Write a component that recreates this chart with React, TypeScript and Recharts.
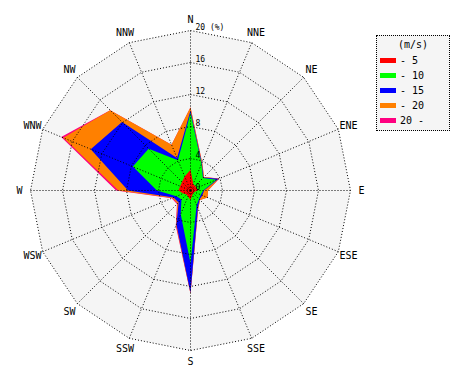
import React from 'react'
import { RadarChart, Radar, PolarGrid, PolarAngleAxis, PolarRadiusAxis } from 'recharts'

const directions = ['N', 'NNE', 'NE', 'ENE', 'E', 'ESE', 'SE', 'SSE', 'S', 'SSW', 'SW', 'WSW', 'W', 'WNW', 'NW', 'NNW']

// cumulative frequency (%) per speed class
const upTo5 = [2.6, 0.9, 0.8, 0.8, 0.9, 0.5, 0.5, 0.6, 1.2, 0.8, 0.7, 1.0, 1.5, 1.4, 1.5, 1.9]
const upTo10 = [9.7, 3.6, 2.2, 3.5, 1.6, 1.4, 1.5, 2.0, 9.1, 3.2, 1.6, 1.9, 4.2, 7.8, 7.4, 4.1]
const upTo15 = [10.0, 3.7, 2.3, 3.8, 1.7, 1.6, 1.6, 2.4, 12.8, 4.6, 2.1, 2.3, 7.8, 13.5, 12.1, 4.4]
const upTo20 = [10.4, 3.8, 2.4, 3.85, 2.2, 2.3, 1.7, 2.5, 12.9, 4.7, 2.3, 2.45, 9.0, 17.2, 14.2, 6.2]
const allSpeeds = [10.4, 3.8, 2.4, 3.9, 2.2, 2.3, 1.7, 2.5, 12.9, 4.8, 2.4, 2.55, 9.3, 17.5, 14.2, 6.2]

const radiusTicks = [0, 4, 8, 12, 16, 20]

const classes = [
  { key: 'over20', label: '20 -', color: '#ff0080' },
  { key: 'to20', label: '- 20', color: '#ff8000' },
  { key: 'to15', label: '- 15', color: '#0000ff' },
  { key: 'to10', label: '- 10', color: '#00ff00' },
  { key: 'to5', label: '- 5', color: '#ff0000' },
]

const data = directions.map((dir, i) => ({
  dir,
  to5: upTo5[i],
  to10: upTo10[i],
  to15: upTo15[i],
  to20: upTo20[i],
  over20: allSpeeds[i],
}))

const font = '"DejaVu Sans Mono", monospace'

const AngleTick = (props: any) => {
  const { x, y, cx, cy, payload } = props
  const dx = x - cx
  const dy = y - cy
  const d = Math.sqrt(dx * dx + dy * dy) || 1
  const r = 171
  return (
    <text x={cx + (dx / d) * r} y={cy + (dy / d) * r} dy="0.35em" textAnchor="middle" fontFamily={font} fontSize={10} fill="#000">
      {payload.value}
    </text>
  )
}

const RadiusTick = (props: any) => {
  const { x, y, payload } = props
  const label = payload.value === 20 ? '20 (%)' : String(payload.value)
  return (
    <text x={x + 5} y={y - 1} fontFamily={font} fontSize={8} fill="#000">
      {label}
    </text>
  )
}

const LegendBox = () => (
  <div
    style={{
      position: 'absolute',
      left: 376,
      top: 35,
      width: 72,
      height: 94,
      border: '1px dotted #000',
      background: '#f5f5f5',
      fontFamily: font,
      fontSize: 10,
      color: '#000',
    }}
  >
    <div style={{ position: 'absolute', top: 3, left: 0, width: 72, textAlign: 'center' }}>(m/s)</div>
    {classes
      .slice()
      .reverse()
      .map((c, i) => (
        <div key={c.key} style={{ position: 'absolute', left: 3, top: 18 + i * 15, height: 12, display: 'flex', alignItems: 'center' }}>
          <span style={{ display: 'inline-block', width: 16, height: 5, background: c.color, marginRight: 4 }} />
          <span>{c.label}</span>
        </div>
      ))}
  </div>
)

export default function App() {
  return (
    <div style={{ position: 'absolute', left: 0, top: 0, width: 470, height: 380, background: '#fff' }}>
      <RadarChart width={470} height={380} data={data} cx={190.5} cy={190.5} outerRadius={160} margin={{ top: 0, right: 0, bottom: 0, left: 0 }}>
        <PolarGrid gridType="polygon" fill="#f5f5f5" stroke="none" radialLines={false} />
        <PolarAngleAxis dataKey="dir" tick={<AngleTick />} tickLine={false} axisLine={false} tickSize={11} />
        {classes.map((c) => (
          <Radar key={c.key} dataKey={c.key} fill={c.color} fillOpacity={1} stroke="none" isAnimationActive={false} />
        ))}
        <PolarGrid gridType="polygon" stroke="#000" strokeDasharray="1 2" zIndex={400} />
        <PolarRadiusAxis angle={90} domain={[0, 20]} ticks={radiusTicks} tick={<RadiusTick />} axisLine={false} tickLine={false} zIndex={600} />
      </RadarChart>
      <LegendBox />
    </div>
  )
}
